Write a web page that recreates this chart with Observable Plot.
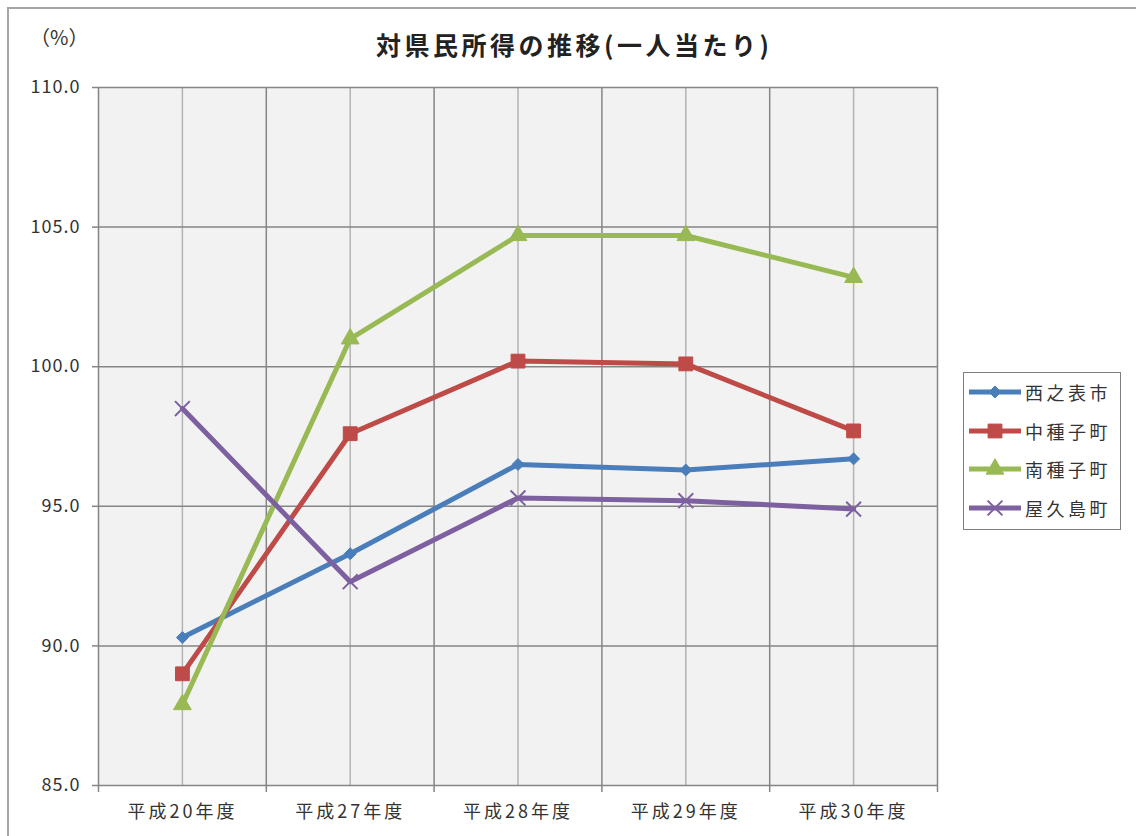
<!DOCTYPE html>
<html><head><meta charset="utf-8">
<script src="https://cdn.jsdelivr.net/npm/d3@7"></script>
<script src="https://cdn.jsdelivr.net/npm/@observablehq/plot@0.6"></script>
<style>
body{margin:0;background:#fff;font-family:"Noto Sans CJK JP","Noto Sans",sans-serif;}
#wrap{position:relative;width:1136px;height:836px;overflow:hidden;background:#fff;}
#border{position:absolute;left:7px;top:7px;width:1200px;height:900px;border-left:2px solid #a6a6a6;border-top:2px solid #a6a6a6;}
#chart{position:absolute;left:0;top:0;}
#title{position:absolute;top:26px;left:376px;font-size:25px;font-weight:bold;letter-spacing:3.5px;color:#222;white-space:nowrap;}
#unit{position:absolute;top:22px;left:30px;font-size:20px;color:#333;white-space:nowrap;}
#legend{position:absolute;left:963px;top:372px;width:158px;height:158px;border:1.5px solid #7f7f7f;background:#fff;box-sizing:border-box;}
.item{position:absolute;left:3px;height:24px;display:flex;align-items:center;}
.item span{font-size:18px;letter-spacing:3.5px;color:#333;margin-left:2px;}
</style>
</head><body>
<div id="wrap">
  <div id="border"></div>
  <div id="chart"></div>
  <div id="unit">（%）</div>
  <div id="title">対県民所得の推移(一人当たり)</div>
  <div id="legend"></div>
</div>
<script>
const categories = ["平成20年度","平成27年度","平成28年度","平成29年度","平成30年度"];
const seriesNames = ["西之表市","中種子町","南種子町","屋久島町"];
const nishinoomote = [90.3, 93.3, 96.5, 96.3, 96.7];
const nakatane     = [89.0, 97.6, 100.2, 100.1, 97.7];
const minamitane   = [87.9, 101.0, 104.7, 104.7, 103.2];
const yakushima    = [98.5, 92.3, 95.3, 95.2, 94.9];
const yTicks = [85, 90, 95, 100, 105, 110];

const seriesValues = [nishinoomote, nakatane, minamitane, yakushima];
const colors = ["#4A7EBB", "#BE4B48", "#98B954", "#7D60A0"];
const symbols = ["diamond2", "square", "triangle", "times"];
const radii = [5.4, 7.8, 6.6, 6.8];

const data = [];
seriesNames.forEach((s, k) => seriesValues[k].forEach((v, i) => data.push({series: s, i, value: v})));
const centers = categories.map((c, i) => i);
const bounds = d3.range(categories.length + 1).map(i => i - 0.5);

const marks = [
  Plot.frame({fill: "#f2f2f2", stroke: null}),
  Plot.ruleX(centers, {stroke: "#b3b3b3", strokeWidth: 1.5}),
  Plot.ruleX(bounds, {stroke: "#858585", strokeWidth: 1.5}),
  Plot.ruleY(yTicks, {stroke: "#858585", strokeWidth: 1.5}),
  Plot.axisY({ticks: yTicks, tickFormat: d => d.toFixed(1), tickSize: 6, tickPadding: 12, fontSize: 18, label: null, stroke: "#858585", strokeWidth: 1.5}),
  Plot.axisX({ticks: bounds, tickSize: 7, tickFormat: () => "", label: null, stroke: "#858585", strokeWidth: 1.5}),
  Plot.axisX({ticks: centers, tickSize: 0, tickPadding: 20, tickFormat: i => categories[i], label: null, fontSize: 18})
];
seriesNames.forEach((s, k) => {
  const d = data.filter(r => r.series === s);
  marks.push(Plot.line(d, {x: "i", y: "value", stroke: colors[k], strokeWidth: 5}));
});
seriesNames.forEach((s, k) => {
  const d = data.filter(r => r.series === s);
  marks.push(Plot.dot(d, {x: "i", y: "value", symbol: () => symbols[k], r: radii[k],
    fill: colors[k], stroke: colors[k], strokeWidth: symbols[k] === "times" ? 2 : 1}));
});

const chart = Plot.plot({
  width: 1136, height: 836,
  marginLeft: 98, marginRight: 199, marginTop: 87, marginBottom: 51,
  x: {type: "linear", domain: [-0.5, categories.length - 0.5], label: null},
  y: {domain: [85, 110], label: null},
  symbol: {type: "identity"},
  style: {fontFamily: '"Noto Sans CJK JP", sans-serif', color: "#333", background: "transparent"},
  marks
});
document.getElementById("chart").append(chart);
d3.select(chart).selectAll('g[aria-label="x-axis tick label"] text').style("letter-spacing", "3px");
d3.select(chart).selectAll('g[aria-label="y-axis tick label"] text').style("letter-spacing", "1px");

const legend = d3.select("#legend");
seriesNames.forEach((s, k) => {
  const item = legend.append("div").attr("class", "item").style("top", (7 + k * 38.5) + "px");
  const svg = item.append("svg").attr("width", 56).attr("height", 24);
  svg.append("line").attr("x1", 2).attr("x2", 54).attr("y1", 12).attr("y2", 12)
    .attr("stroke", colors[k]).attr("stroke-width", 5);
  const symMap = {diamond2: d3.symbolDiamond2, square: d3.symbolSquare, triangle: d3.symbolTriangle, times: d3.symbolTimes};
  const sym = symMap[symbols[k]];
  svg.append("path").attr("transform", "translate(28,12)")
    .attr("d", d3.symbol(sym, Math.PI * radii[k] * radii[k])())
    .attr("fill", symbols[k] === "times" ? "none" : colors[k])
    .attr("stroke", colors[k]).attr("stroke-width", symbols[k] === "times" ? 2 : 1);
  item.append("span").text(s);
});
</script>
</body></html>
